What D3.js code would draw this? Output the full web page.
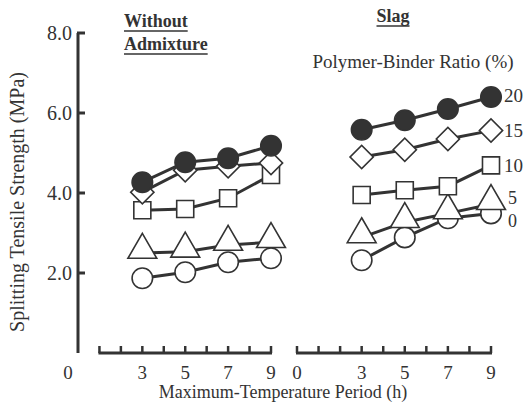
<!DOCTYPE html>
<html>
<head>
<meta charset="utf-8">
<script src="https://cdn.jsdelivr.net/npm/d3@7/dist/d3.min.js"></script>
<style>
  body { margin: 0; background: #fff; }
</style>
</head>
<body>
<div id="chart"></div>
<script>
// hours on the x axis
var hours = [3, 5, 7, 9];
var ratios = ["0", "5", "10", "15", "20"];
var yTicks = [2, 4, 6, 8];
var xTicksLeft = [3, 5, 7, 9];
var xTicksRight = [0, 3, 5, 7, 9];

// splitting tensile strength (MPa), without admixture
var plain0 = [1.87, 2.02, 2.27, 2.37];
var plain5 = [2.50, 2.53, 2.70, 2.77];
var plain10 = [3.57, 3.60, 3.87, 4.45];
var plain15 = [4.02, 4.57, 4.67, 4.75];
var plain20 = [4.27, 4.77, 4.87, 5.18];

// slag
var slag0 = [2.32, 2.89, 3.37, 3.49];
var slag5 = [2.89, 3.27, 3.49, 3.72];
var slag10 = [3.95, 4.07, 4.17, 4.69];
var slag15 = [4.90, 5.08, 5.35, 5.56];
var slag20 = [5.58, 5.82, 6.10, 6.40];

var plainSeries = [plain0, plain5, plain10, plain15, plain20];
var slagSeries = [slag0, slag5, slag10, slag15, slag20];

var width = 525, height = 406;
var ink = "#333";
var serif = "'Liberation Serif', 'Times New Roman', 'DejaVu Serif', serif";

var svg = d3.select("#chart").append("svg")
    .attr("width", width)
    .attr("height", height)
    .attr("font-family", serif);

var y = d3.scaleLinear().domain([0, 8]).range([353, 33]);
var xLeft = d3.scaleLinear().domain([0, 9]).range([78, 271]);
var xRight = d3.scaleLinear().domain([0, 9]).range([297, 491]);

// marker styles per ratio
var markers = [
    { type: d3.symbolCircle, size: 330, fill: "#fff", rotate: 0 },
    { type: d3.symbolTriangle, size: 360, fill: "#fff", rotate: 0 },
    { type: d3.symbolSquare, size: 290, fill: "#fff", rotate: 0 },
    { type: d3.symbolSquare, size: 270, fill: "#fff", rotate: 45 },
    { type: d3.symbolCircle, size: 330, fill: "#333", rotate: 0 }
];

function txt(sel) {
    return sel.attr("fill", ink).attr("font-family", serif);
}

// y axis
var yAxis = svg.append("g").attr("transform", "translate(78,0)");
yAxis.append("line")
    .attr("x1", 0).attr("x2", 0)
    .attr("y1", y(8)).attr("y2", y(0))
    .attr("stroke", ink).attr("stroke-width", 3);
yAxis.selectAll(".ytick").data(yTicks).enter().append("line")
    .attr("x1", -1).attr("x2", 7)
    .attr("y1", function (d) { return y(d); })
    .attr("y2", function (d) { return y(d); })
    .attr("stroke", ink).attr("stroke-width", 3);
txt(yAxis.selectAll(".ylab").data(yTicks).enter().append("text"))
    .attr("x", -6)
    .attr("y", function (d) { return y(d) + 7; })
    .attr("text-anchor", "end")
    .attr("font-size", "20px")
    .text(function (d) { return d.toFixed(1); });

// x axes
function drawXAxis(x, lo, labels) {
    var g = svg.append("g");
    g.append("line")
        .attr("x1", x(lo) - 1).attr("x2", x(9) + 1)
        .attr("y1", y(0)).attr("y2", y(0))
        .attr("stroke", ink).attr("stroke-width", 3);
    g.selectAll(".xtick").data(d3.range(lo, 10)).enter().append("line")
        .attr("x1", function (d) { return x(d); })
        .attr("x2", function (d) { return x(d); })
        .attr("y1", y(0)).attr("y2", y(0) - 7)
        .attr("stroke", ink).attr("stroke-width", 2.5);
    txt(g.selectAll(".xlab").data(labels).enter().append("text"))
        .attr("x", function (d) { return x(d); })
        .attr("y", 379)
        .attr("text-anchor", "middle")
        .attr("font-size", "19px")
        .text(function (d) { return d; });
}
drawXAxis(xLeft, 1, xTicksLeft);
drawXAxis(xRight, 0, xTicksRight);
txt(svg.append("text"))
    .attr("x", 68).attr("y", 379)
    .attr("text-anchor", "middle")
    .attr("font-size", "19px")
    .text("0");

// series
function drawSeries(x, series) {
    var line = d3.line()
        .x(function (d, i) { return x(hours[i]); })
        .y(function (d) { return y(d); });
    series.forEach(function (vals, k) {
        var m = markers[k];
        var g = svg.append("g");
        g.append("path")
            .attr("d", line(vals))
            .attr("fill", "none")
            .attr("stroke", ink)
            .attr("stroke-width", 3);
        g.selectAll("path.mk").data(vals).enter().append("path")
            .attr("class", "mk")
            .attr("d", d3.symbol().type(m.type).size(m.size))
            .attr("transform", function (d, i) {
                var dy = m.type === d3.symbolTriangle ? -3 : 0;
                return "translate(" + x(hours[i]) + "," + (y(d) + dy) + ") rotate(" + m.rotate + ")";
            })
            .attr("fill", m.fill)
            .attr("stroke", ink)
            .attr("stroke-width", 1.6);
    });
}
drawSeries(xLeft, plainSeries);
drawSeries(xRight, slagSeries);

// ratio labels at the right end of slag lines
var labelY = [227, 204, 172, 137, 102];
txt(svg.selectAll(".rlab").data(ratios).enter().append("text"))
    .attr("x", function (d, i) { return i < 2 ? 508 : 504; })
    .attr("y", function (d, i) { return labelY[i]; })
    .attr("font-size", function (d, i) { return i < 2 ? "18px" : "19px"; })
    .text(function (d) { return d; });

// headings
function heading(s, x, yy, anchor) {
    var t = txt(svg.append("text"))
        .attr("x", x).attr("y", yy)
        .attr("text-anchor", anchor)
        .attr("font-size", "18px")
        .attr("font-weight", "bold")
        .text(s);
    var b = t.node().getBBox();
    svg.append("line")
        .attr("x1", b.x).attr("x2", b.x + b.width)
        .attr("y1", yy + 4).attr("y2", yy + 4)
        .attr("stroke", ink).attr("stroke-width", 1.5);
}
heading("Without", 124, 27, "start");
heading("Admixture", 124, 50, "start");
heading("Slag", 393, 22, "middle");

txt(svg.append("text"))
    .attr("x", 413).attr("y", 68)
    .attr("text-anchor", "middle")
    .attr("font-size", "19px")
    .text("Polymer-Binder Ratio (%)");

txt(svg.append("text"))
    .attr("x", 283).attr("y", 398)
    .attr("text-anchor", "middle")
    .attr("font-size", "18px")
    .text("Maximum-Temperature Period (h)");

txt(svg.append("text"))
    .attr("transform", "translate(24,202) rotate(-90)")
    .attr("text-anchor", "middle")
    .attr("font-size", "20px")
    .text("Splitting Tensile Strength (MPa)");
</script>
</body>
</html>
